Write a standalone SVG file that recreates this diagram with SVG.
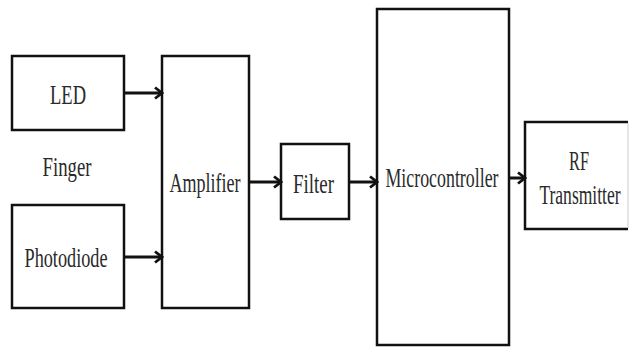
<svg xmlns="http://www.w3.org/2000/svg" width="633" height="347" viewBox="0 0 633 347">
<style>
  .box { fill: #ffffff; stroke: #111111; stroke-width: 2.5; }
  .lbl { font-family: "Liberation Serif", "Times New Roman", serif; font-size: 27px; fill: #2a2a2a; text-anchor: middle; }
  .conn { stroke: #111111; stroke-width: 3; fill: none; marker-end: url(#arrow); }
</style>
<defs>
  <marker id="arrow" markerUnits="userSpaceOnUse" markerWidth="12" markerHeight="14" refX="10" refY="7" orient="auto">
    <path d="M3,1.5 L10,7 L3,12.5" fill="none" stroke="#111111" stroke-width="2.8"/>
  </marker>
</defs>
<rect width="633" height="347" fill="#ffffff"/>
<g id="led">
  <rect class="box" x="12" y="56" width="112" height="74"/>
  <text class="lbl" x="68" y="104" textLength="36" lengthAdjust="spacingAndGlyphs">LED</text>
</g>
<g id="finger">
  <text class="lbl" x="67" y="176" textLength="49" lengthAdjust="spacingAndGlyphs">Finger</text>
</g>
<g id="photodiode">
  <rect class="box" x="12" y="205" width="112" height="103"/>
  <text class="lbl" x="66" y="267" textLength="83" lengthAdjust="spacingAndGlyphs">Photodiode</text>
</g>
<g id="amplifier">
  <rect class="box" x="162" y="56" width="87" height="252"/>
  <text class="lbl" x="205" y="192" textLength="71" lengthAdjust="spacingAndGlyphs">Amplifier</text>
</g>
<g id="filter">
  <rect class="box" x="281" y="144" width="68" height="75"/>
  <text class="lbl" x="313.5" y="193" textLength="41" lengthAdjust="spacingAndGlyphs">Filter</text>
</g>
<g id="microcontroller">
  <rect class="box" x="377" y="9" width="132" height="336"/>
  <text class="lbl" x="442" y="187" textLength="113" lengthAdjust="spacingAndGlyphs">Microcontroller</text>
</g>
<g id="rf-transmitter">
  <path d="M628,122 L525,122 L525,229 L628,229" fill="#ffffff" stroke="#111111" stroke-width="2.5"/>
  <line x1="628" y1="123" x2="628" y2="228" stroke="#cccccc" stroke-width="1"/>
  <text class="lbl" x="579" y="170" textLength="20" lengthAdjust="spacingAndGlyphs">RF</text>
  <text class="lbl" transform="translate(580,204) scale(0.65,1)" x="0" y="0">Transmitter</text>
</g>
<g id="connectors">
  <line class="conn" x1="124" y1="93" x2="162" y2="93"/>
  <line class="conn" x1="124" y1="257" x2="162" y2="257"/>
  <line class="conn" x1="249" y1="182" x2="281" y2="182"/>
  <line class="conn" x1="349" y1="182" x2="377" y2="182"/>
  <line class="conn" x1="509" y1="178" x2="525" y2="178"/>
</g>
</svg>
